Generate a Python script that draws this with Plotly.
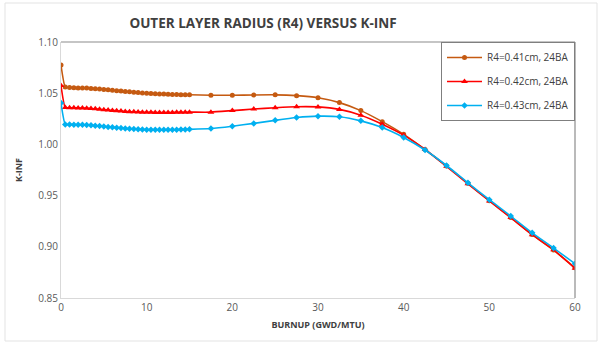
import plotly.graph_objects as go

burnup = [0, 0.5, 1, 1.5, 2, 2.5, 3, 3.5, 4, 4.5, 5, 5.5, 6, 6.5, 7, 7.5, 8, 8.5, 9, 9.5,
          10, 10.5, 11, 11.5, 12, 12.5, 13, 13.5, 14, 14.5, 15,
          17.5, 20, 22.5, 25, 27.5, 30, 32.5, 35, 37.5, 40, 42.5, 45, 47.5, 50, 52.5, 55, 57.5, 60]

kinf_041 = [1.0775, 1.0560, 1.0555, 1.0553, 1.0552, 1.0551, 1.0550, 1.0547, 1.0544, 1.0541,
            1.0537, 1.0533, 1.0529, 1.0525, 1.0521, 1.0517, 1.0513, 1.0509, 1.0506, 1.0503,
            1.0500, 1.0497, 1.0495, 1.0493, 1.0491, 1.0489, 1.0488, 1.0487, 1.0486, 1.0485, 1.0485,
            1.0480, 1.0480, 1.0483, 1.0484, 1.0476, 1.0456, 1.0408, 1.0330, 1.0222, 1.0098,
            0.9950, 0.9788, 0.9620, 0.9450, 0.9286, 0.9120, 0.8968, 0.8795]

kinf_042 = [1.0575, 1.0360, 1.0358, 1.0357, 1.0356, 1.0355, 1.0353, 1.0350, 1.0347, 1.0343,
            1.0339, 1.0335, 1.0331, 1.0328, 1.0325, 1.0322, 1.0320, 1.0318, 1.0316, 1.0315,
            1.0314, 1.0313, 1.0312, 1.0312, 1.0312, 1.0312, 1.0312, 1.0313, 1.0313, 1.0314, 1.0315,
            1.0315, 1.0330, 1.0345, 1.0358, 1.0368, 1.0366, 1.0342, 1.0285, 1.0197, 1.0090,
            0.9950, 0.9786, 0.9615, 0.9448, 0.9285, 0.9118, 0.8970, 0.8790]

kinf_043 = [1.0405, 1.0195, 1.0194, 1.0193, 1.0192, 1.0191, 1.0189, 1.0186, 1.0183, 1.0179,
            1.0175, 1.0171, 1.0167, 1.0163, 1.0159, 1.0156, 1.0153, 1.0150, 1.0148, 1.0146,
            1.0144, 1.0143, 1.0142, 1.0142, 1.0142, 1.0142, 1.0143, 1.0144, 1.0145, 1.0146, 1.0147,
            1.0155, 1.0178, 1.0205, 1.0235, 1.0262, 1.0276, 1.0270, 1.0230, 1.0165, 1.0068,
            0.9945, 0.9794, 0.9625, 0.9460, 0.9300, 0.9136, 0.8988, 0.8835]

series_names = ["R4=0.41cm, 24BA", "R4=0.42cm, 24BA", "R4=0.43cm, 24BA"]
series_values = [kinf_041, kinf_042, kinf_043]
colors = ["#C55A11", "#FF0000", "#00B0F0"]
symbols = ["circle", "triangle-up", "diamond"]
sizes = [5, 6, 5]

x_ticks = [0, 10, 20, 30, 40, 50, 60]
y_ticks = [0.85, 0.90, 0.95, 1.00, 1.05, 1.10]

fig = go.Figure()
for name, vals, c, s, sz in zip(series_names, series_values, colors, symbols, sizes):
    fig.add_trace(go.Scatter(
        x=burnup, y=vals, name=name, mode="lines+markers",
        line=dict(color=c, width=1.6, shape="spline", smoothing=0.5),
        marker=dict(color=c, symbol=s, size=sz),
        legendgroup=name,
    ))

W, H = 601, 344
L, R, T, B = 61, 26, 42, 46
pw, ph = W - L - R, H - T - B

def px_x(p):
    return (p - L) / pw

def px_y(p):
    return (H - B - p) / ph

fig.update_layout(
    width=W, height=H,
    margin=dict(l=L, r=R, t=T, b=B),
    paper_bgcolor="white", plot_bgcolor="white",
    font=dict(family="Open Sans, sans-serif", color="#595959", size=10),
    title=dict(text="<b>OUTER LAYER RADIUS (R4) VERSUS K-INF</b>",
               xref="container", yref="container",
               x=263 / W, xanchor="center", y=1 - 23 / H, yanchor="middle",
               font=dict(size=13.5, color="#404040")),
    xaxis=dict(range=[0, 60], tickvals=x_ticks, ticktext=[str(v) for v in x_ticks],
               showgrid=False, zeroline=False, showline=True, linecolor="#D9D9D9", linewidth=1,
               ticks="", ticklen=0,
               title=dict(text="<b>BURNUP (GWD/MTU)</b>", font=dict(size=9, color="#404040"), standoff=8),
               tickfont=dict(size=10, color="#595959")),
    yaxis=dict(range=[0.85, 1.10], tickvals=y_ticks, ticktext=["%.2f" % v for v in y_ticks],
               showgrid=False, zeroline=False, showline=True, linecolor="#D9D9D9", linewidth=1,
               ticks="", ticklen=0,
               title=dict(text="<b>K-INF</b>", font=dict(size=9, color="#404040"), standoff=14),
               tickfont=dict(size=10, color="#595959")),
    legend=dict(x=1, xanchor="right", y=1, yanchor="top",
                bgcolor="white", bordercolor="#7F7F7F", borderwidth=1,
                font=dict(size=10, color="#404040"), tracegroupgap=5,
                itemwidth=35),
    showlegend=True,
    shapes=[
        dict(type="line", xref="paper", yref="paper", x0=0, x1=1, y0=1, y1=1,
             line=dict(color="#8C8C8C", width=1.2)),
        dict(type="line", xref="paper", yref="paper", x0=1, x1=1, y0=0, y1=1,
             line=dict(color="#8C8C8C", width=1.2)),
        dict(type="rect", xref="paper", yref="paper",
             x0=px_x(5), x1=px_x(597), y0=px_y(341), y1=px_y(3),
             line=dict(color="#E3E3E3", width=1), fillcolor="rgba(0,0,0,0)", layer="below"),
    ],
)

fig.write_html("out.html")
